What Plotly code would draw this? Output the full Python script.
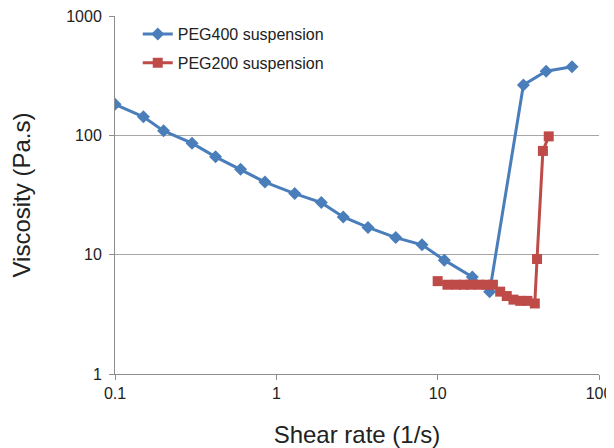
import plotly.graph_objects as go

# shear rate (1/s) and viscosity (Pa.s)
peg400_rate = [0.1, 0.15, 0.2, 0.3, 0.42, 0.6, 0.85, 1.3, 1.9, 2.6, 3.7, 5.5, 8, 11, 16.4, 21, 34, 47, 68]
peg400_visc = [182, 143, 109, 86, 66, 52, 40.6, 32.5, 27.3, 20.7, 16.9, 13.9, 12.1, 9.0, 6.5, 4.9, 264, 344, 375]

peg200_rate = [10, 11.5, 13, 14.5, 16, 18, 20, 22, 24.4, 26.8, 29.5, 32.5, 36, 40, 41.3, 44.9, 48.8]
peg200_visc = [6.0, 5.6, 5.6, 5.6, 5.6, 5.6, 5.6, 5.6, 4.9, 4.5, 4.2, 4.1, 4.1, 3.9, 9.2, 74, 98]

x_ticks = [0.1, 1, 10, 100]
x_ticktext = ["0.1", "1", "10", "100"]
y_ticks = [1, 10, 100, 1000]
y_ticktext = ["1", "10", "100", "1000"]

BLUE = "#4a7ebb"
RED = "#be4b48"
AXIS = "#8c8c8c"

fig = go.Figure()
fig.add_trace(go.Scatter(
    x=peg400_rate, y=peg400_visc, name="PEG400 suspension",
    mode="lines+markers", legendgroup="a",
    line=dict(color=BLUE, width=3),
    marker=dict(symbol="diamond", size=10, color=BLUE),
))
fig.add_trace(go.Scatter(
    x=peg200_rate, y=peg200_visc, name="PEG200 suspension",
    mode="lines+markers", legendgroup="b",
    line=dict(color=RED, width=3),
    marker=dict(symbol="square", size=10, color=RED),
))

# page body adds an 8px offset, so the figure is sized 8px smaller
fig.update_layout(
    width=606, height=440,
    margin=dict(l=107, r=15, t=8, b=74),
    paper_bgcolor="white", plot_bgcolor="white",
    font=dict(family="Liberation Sans, Arial, sans-serif", size=16, color="#222"),
    showlegend=True,
    legend=dict(x=0.047, y=0.997, xanchor="left", yanchor="top",
                bgcolor="rgba(0,0,0,0)", font=dict(size=16),
                tracegroupgap=5),
    xaxis=dict(
        type="log", range=[-1, 2], automargin=False,
        tickvals=x_ticks, ticktext=x_ticktext, ticklabeloverflow="allow",
        showgrid=False, zeroline=False,
        showline=True, linecolor=AXIS, linewidth=1,
        ticks="outside", ticklen=5, tickcolor=AXIS,
        title=dict(text="Shear rate (1/s)", font=dict(size=24), standoff=24),
    ),
    yaxis=dict(
        type="log", range=[0, 3], automargin=False,
        tickvals=y_ticks, ticktext=y_ticktext, ticklabelstandoff=4,
        ticklabeloverflow="allow",
        showgrid=True, gridcolor="#a6a6a6", gridwidth=1, zeroline=False,
        showline=True, linecolor=AXIS, linewidth=1,
        ticks="outside", ticklen=5, tickcolor=AXIS,
        title=dict(text="Viscosity (Pa.s)", font=dict(size=24), standoff=32),
    ),
)

fig.write_html("out.html")
